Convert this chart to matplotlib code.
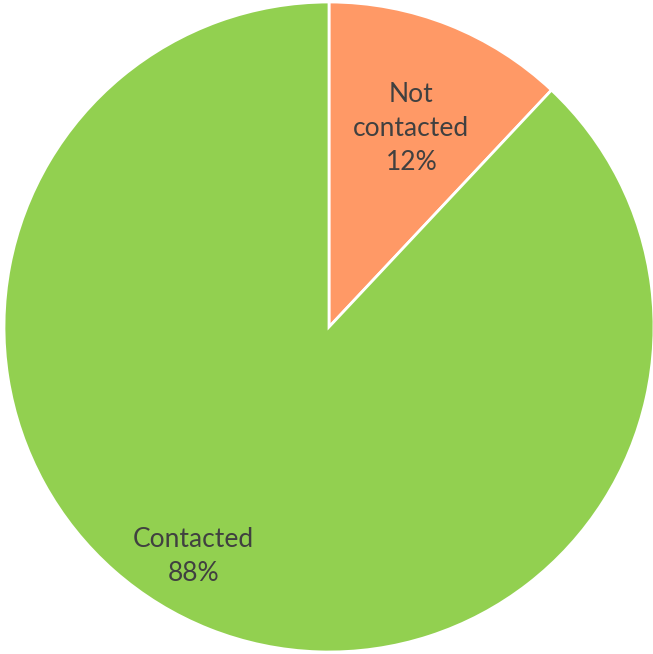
import numpy as np
import matplotlib
matplotlib.use("Agg")
import matplotlib.pyplot as plt

# slice data, clockwise from 12 o'clock
categories = ["Not\ncontacted", "Contacted"]
shares = [12, 88]
colors = ["#FF9966", "#92D050"]

# label placement per slice (radius fraction, angle offset in degrees)
label_radius = [0.66, 0.82]
label_shift = [-1, -9]

fig = plt.figure(figsize=(6.53, 6.54), dpi=100)
ax = fig.add_axes([4 / 653, 2 / 654, 650 / 653, 650 / 654])

wedges, _ = ax.pie(shares, colors=colors, startangle=90, counterclock=False,
                   radius=1.0,
                   wedgeprops=dict(edgecolor="white", linewidth=2.0))

for w, name, val, r, shift in zip(wedges, categories, shares,
                                  label_radius, label_shift):
    mid = np.deg2rad((w.theta1 + w.theta2) / 2 + shift)
    ax.text(r * np.cos(mid), r * np.sin(mid), f"{name}\n{val}%",
            ha="center", va="center", fontsize=19, color="#404040",
            family=["Lato", "DejaVu Sans"], linespacing=1.45)

ax.set_xlim(-1, 1)
ax.set_ylim(-1, 1)
ax.set_aspect("equal")
ax.axis("off")

fig.savefig("out.png", dpi=100, facecolor="white")
